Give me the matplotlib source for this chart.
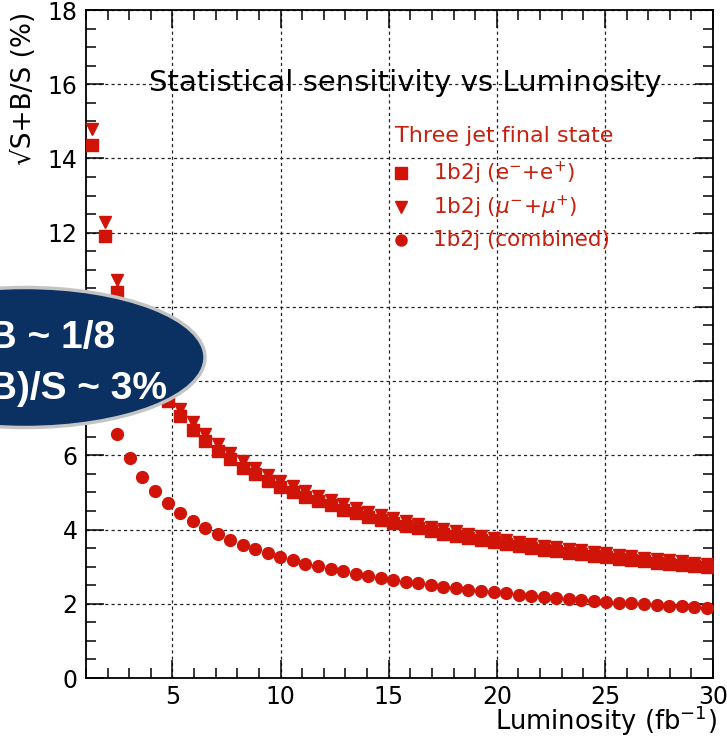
import matplotlib
matplotlib.use("Agg")
import matplotlib.pyplot as plt
from matplotlib.patches import Ellipse
from matplotlib.ticker import MultipleLocator

plt.rcParams["font.family"] = ["DejaVu Sans"]

# luminosity bin centres (fb^-1)
lumi = [1.29, 1.87, 2.45, 3.03, 3.61, 4.19, 4.77, 5.35, 5.93, 6.51,
        7.09, 7.67, 8.25, 8.83, 9.41, 9.99, 10.57, 11.15, 11.73, 12.31,
        12.89, 13.47, 14.05, 14.63, 15.21, 15.79, 16.37, 16.95, 17.53, 18.11,
        18.69, 19.27, 19.85, 20.43, 21.01, 21.59, 22.17, 22.75, 23.33, 23.91,
        24.49, 25.07, 25.65, 26.23, 26.81, 27.39, 27.97, 28.55, 29.13, 29.71]

# sqrt(S+B)/S in percent
sens_ee = [14.35, 11.92, 10.41, 9.36, 8.58, 7.96, 7.46, 7.05, 6.69, 6.39,
           6.12, 5.89, 5.67, 5.49, 5.31, 5.16, 5.01, 4.88, 4.76, 4.65,
           4.54, 4.44, 4.35, 4.26, 4.18, 4.10, 4.03, 3.96, 3.89, 3.83,
           3.77, 3.71, 3.66, 3.61, 3.56, 3.51, 3.46, 3.42, 3.37, 3.33,
           3.29, 3.26, 3.22, 3.18, 3.15, 3.11, 3.08, 3.05, 3.02, 2.99]
sens_mumu = [14.79, 12.29, 10.73, 9.65, 8.84, 8.21, 7.69, 7.26, 6.90, 6.58,
             6.31, 6.07, 5.85, 5.65, 5.48, 5.32, 5.17, 5.03, 4.91, 4.79,
             4.68, 4.58, 4.48, 4.39, 4.31, 4.23, 4.15, 4.08, 4.01, 3.95,
             3.89, 3.83, 3.77, 3.72, 3.67, 3.62, 3.57, 3.52, 3.48, 3.44,
             3.39, 3.36, 3.32, 3.28, 3.24, 3.21, 3.18, 3.14, 3.11, 3.08]
sens_comb = [9.07, 7.53, 6.58, 5.92, 5.42, 5.03, 4.72, 4.45, 4.23, 4.04,
             3.87, 3.72, 3.59, 3.47, 3.36, 3.26, 3.17, 3.08, 3.01, 2.94,
             2.87, 2.81, 2.75, 2.69, 2.64, 2.59, 2.55, 2.50, 2.46, 2.42,
             2.38, 2.35, 2.31, 2.28, 2.25, 2.22, 2.19, 2.16, 2.13, 2.11,
             2.08, 2.06, 2.03, 2.01, 1.99, 1.97, 1.95, 1.93, 1.91, 1.89]

RED = "#d01408"
TXT_RED = "#c8200f"
W, H = 727, 738


def fx(px):
    return px / W


def fy(py):
    return (H - py) / H


fig = plt.figure(figsize=(7.27, 7.38), dpi=100)
ax = fig.add_axes([86 / W, 60 / H, 627 / W, 668 / H])

ax.plot(lumi, sens_mumu, "v", color=RED, ms=9, ls="none", zorder=3)
ax.plot(lumi, sens_ee, "s", color=RED, ms=8.5, ls="none", zorder=4)
ax.plot(lumi, sens_comb, "o", color=RED, ms=8.5, ls="none", zorder=4)

ax.set_xlim(1, 30)
ax.set_ylim(0, 18)
ax.xaxis.set_major_locator(MultipleLocator(5))
ax.xaxis.set_minor_locator(MultipleLocator(1))
ax.yaxis.set_major_locator(MultipleLocator(2))
ax.yaxis.set_minor_locator(MultipleLocator(0.5))
ax.tick_params(which="both", direction="in", top=True, right=True,
               labelsize=17, width=1.1)
ax.tick_params(which="major", length=13)
ax.tick_params(which="minor", length=7)
ax.tick_params(axis="x", pad=5)
ax.tick_params(axis="y", pad=6)
for s in ax.spines.values():
    s.set_linewidth(1.3)

ax.grid(True, which="major", color="#222222", lw=0.9, ls=(0, (2.5, 2.5)))
ax.set_axisbelow(True)

ax.text(0.51, 0.891, "Statistical sensitivity vs Luminosity",
        transform=ax.transAxes, ha="center", va="center", fontsize=21)

# legend block
fig.text(fx(395), fy(136), "Three jet final state", fontsize=16,
         color=TXT_RED, va="center")
leg = [("s", "1b2j (e$^{-}$+e$^{+}$)", 173),
       ("v", "1b2j ($\\mu^{-}$+$\\mu^{+}$)", 207),
       ("o", "1b2j (combined)", 240)]
for mk, lab, yp in leg:
    fig.lines.append(plt.Line2D([fx(401)], [fy(yp)], marker=mk, color=RED,
                                ms=8, transform=fig.transFigure))
    fig.text(fx(433), fy(yp), lab, fontsize=15.5, color=TXT_RED, va="center")

fig.text(0.033, fy(12), "√S+B/S (%)", rotation=90, ha="center",
         va="top", fontsize=19)
fig.text(fx(717), fy(730), "Luminosity (fb$^{-1}$)", ha="right",
         va="baseline", fontsize=18.5)

# overlay callout
ell = Ellipse((0.25, 3.805), 3.6, 1.4, transform=fig.dpi_scale_trans,
              facecolor="#0a3161", edgecolor="#c4c4c4", lw=2.5, zorder=10)
fig.add_artist(ell)
bold = dict(transform=fig.dpi_scale_trans, ha="right", va="baseline",
            fontsize=28, fontweight="bold", color="white", zorder=11,
            family=["Liberation Sans", "DejaVu Sans"])
fig.text(1.15, 3.90, "S/B ~ 1/8", **bold)
fig.text(1.67, 3.39, "√(S+B)/S ~ 3%", **bold)

fig.savefig("out.png", dpi=100, facecolor="white")
